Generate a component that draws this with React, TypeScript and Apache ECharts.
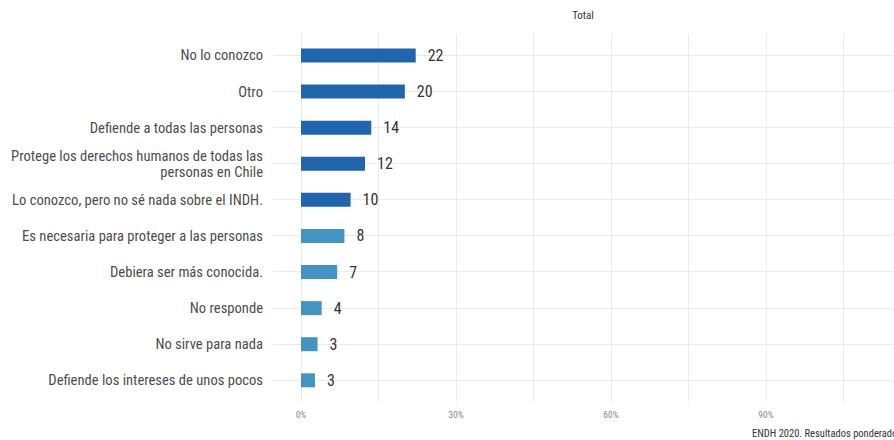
import React, { useEffect, useRef } from 'react';
import * as echarts from 'echarts';

const categories = [
  'No lo conozco',
  'Otro',
  'Defiende a todas las personas',
  'Protege los derechos humanos de todas las\npersonas en Chile',
  'Lo conozco, pero no sé nada sobre el INDH.',
  'Es necesaria para proteger a las personas',
  'Debiera ser más conocida.',
  'No responde',
  'No sirve para nada',
  'Defiende los intereses de unos pocos',
];
const values = [22.2, 20.1, 13.6, 12.4, 9.6, 8.4, 7.0, 4.0, 3.2, 2.7];
const groups = ['dark', 'dark', 'dark', 'dark', 'dark', 'light', 'light', 'light', 'light', 'light'];
const tickLabels = [0, 30, 60, 90];
const gridValues = [0, 15, 30, 45, 60, 75, 90, 105];
const rowValues = [1, 2, 3, 4, 5, 6, 7, 8, 9, 10];
const facetTitle = 'Total';
const caption = 'ENDH 2020. Resultados ponderados';

const FONT = "'Roboto Condensed', 'Liberation Sans Narrow', 'DejaVu Sans Condensed', Roboto, sans-serif";
const colors: Record<string, string> = { dark: '#2166AC', light: '#4393C3' };

const X_MIN = -5.42;
const X_MAX = 114.58;

export default function App() {
  const ref = useRef<HTMLDivElement>(null);
  useEffect(() => {
    if (!ref.current) return;
    const chart = echarts.init(ref.current, null, { renderer: 'svg' });
    chart.setOption({
      animation: false,
      backgroundColor: '#ffffff',
      textStyle: { fontFamily: FONT },
      grid: [
        { left: 273, right: 1, top: 33.3, bottom: 38.3 },
        { left: 273, right: 1, top: 37.45, bottom: 41.65 },
      ],
      xAxis: [
        {
          type: 'value',
          gridIndex: 0,
          min: X_MIN,
          max: X_MAX,
          axisLine: { show: false },
          axisTick: { show: false, customValues: gridValues },
          axisLabel: {
            customValues: tickLabels,
            formatter: '{value}%',
            color: '#8a8a8a',
            fontSize: 9.5,
            margin: 8,
            fontFamily: FONT,
          },
          splitLine: { show: true, lineStyle: { color: '#ebebeb', width: 1 } },
        },
        {
          type: 'value',
          gridIndex: 1,
          min: X_MIN,
          max: X_MAX,
          show: false,
          splitLine: { show: false },
        },
      ],
      yAxis: [
        {
          type: 'value',
          gridIndex: 0,
          inverse: true,
          min: 0.4,
          max: 10.6,
          axisLine: { show: false },
          axisTick: { show: false, customValues: rowValues },
          axisLabel: { show: false },
          splitLine: { show: true, lineStyle: { color: '#ebebeb', width: 1 } },
        },
        {
          type: 'category',
          gridIndex: 1,
          inverse: true,
          data: categories,
          axisLine: { show: false },
          axisTick: { show: false },
          splitLine: { show: false },
          axisLabel: {
            color: '#4d4d4d',
            fontSize: 14.6,
            margin: 10,
            lineHeight: 16,
            fontFamily: FONT,
          },
        },
      ],
      series: [
        {
          type: 'bar',
          xAxisIndex: 1,
          yAxisIndex: 1,
          barWidth: 14,
          data: values.map((v, i) => ({ value: v, itemStyle: { color: colors[groups[i]] } })),
          label: {
            show: true,
            position: 'right',
            distance: 12,
            formatter: (p: any) => String(Math.round(p.value)),
            fontSize: 16,
            color: '#333333',
            fontFamily: FONT,
          },
        },
      ],
      graphic: [
        {
          type: 'text',
          x: 583,
          y: 15,
          style: {
            text: facetTitle,
            fontSize: 11,
            fill: '#333333',
            fontFamily: FONT,
            align: 'center',
            verticalAlign: 'middle',
            textAlign: 'center',
            textVerticalAlign: 'middle',
          },
        },
        {
          type: 'text',
          x: 752,
          y: 433,
          style: {
            text: caption,
            fontSize: 10.5,
            fill: '#333333',
            fontFamily: FONT,
            align: 'left',
            verticalAlign: 'middle',
            textAlign: 'left',
            textVerticalAlign: 'middle',
          },
        },
      ],
    });
    return () => chart.dispose();
  }, []);
  return <div ref={ref} style={{ position: 'absolute', left: 0, top: 0, width: 894, height: 440 }} />;
}
